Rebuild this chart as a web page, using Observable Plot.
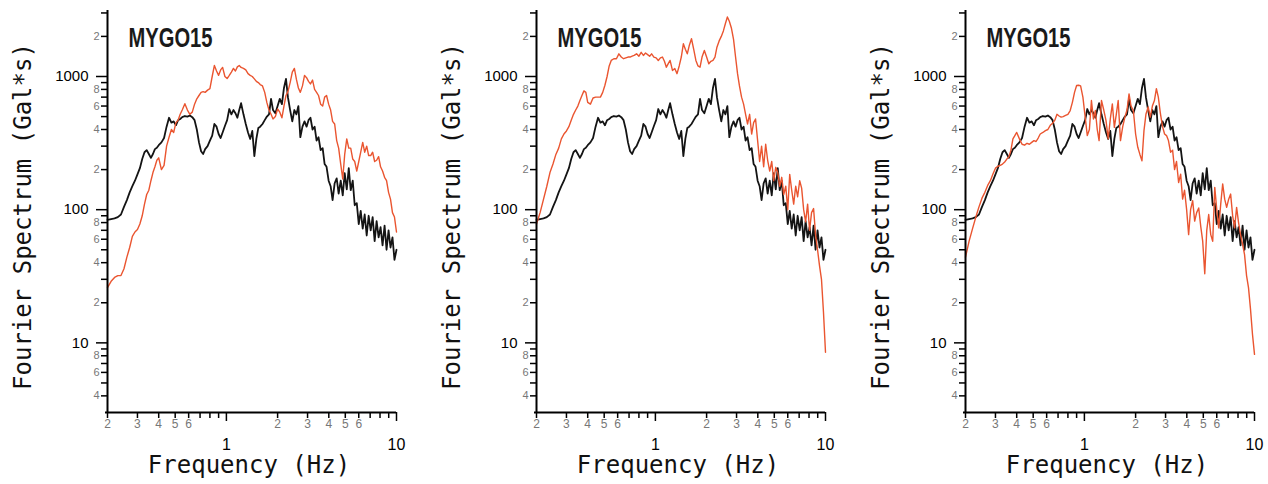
<!DOCTYPE html>
<html><head><meta charset="utf-8">
<script src="https://cdn.jsdelivr.net/npm/d3@7"></script>
<script src="https://cdn.jsdelivr.net/npm/@observablehq/plot@0.6"></script>
<style>
html,body{margin:0;padding:0;background:#fff;overflow:hidden}
#wrap{position:relative;width:1268px;height:484px;background:#fff}
#wrap svg{position:absolute;top:0}
</style></head><body><div id="wrap"></div>
<script>
// Frequency grid (Hz)
const freq = [
  0.20, 0.21, 0.22, 0.23, 0.24, 0.25, 0.26, 0.27, 0.28, 0.29,
  0.30, 0.31, 0.32, 0.33, 0.34, 0.35, 0.36, 0.37, 0.38, 0.39,
  0.40, 0.415, 0.43, 0.445, 0.46, 0.475, 0.49, 0.505, 0.52, 0.535,
  0.55, 0.57, 0.59, 0.61, 0.63, 0.65, 0.67, 0.69, 0.71, 0.73,
  0.75, 0.775, 0.80, 0.825, 0.85, 0.875, 0.90, 0.925, 0.95, 0.98,
  1.01, 1.04, 1.07, 1.10, 1.13, 1.16, 1.19, 1.22, 1.26, 1.30,
  1.34, 1.38, 1.42, 1.46, 1.50, 1.54, 1.58, 1.63, 1.68, 1.73,
  1.78, 1.83, 1.88, 1.94, 2.00, 2.06, 2.12, 2.18, 2.24, 2.30,
  2.37, 2.44, 2.51, 2.58, 2.65, 2.72, 2.80, 2.88, 2.96, 3.04,
  3.12, 3.21, 3.30, 3.39, 3.48, 3.58, 3.68, 3.78, 3.88, 3.99,
  4.10, 4.21, 4.33, 4.45, 4.57, 4.70, 4.83, 4.96, 5.10, 5.24,
  5.38, 5.53, 5.68, 5.84, 6.00, 6.16, 6.33, 6.50, 6.68, 6.86,
  7.05, 7.24, 7.44, 7.64, 7.85, 8.06, 8.28, 8.51, 8.74, 8.98,
  9.22, 9.47, 9.73, 10.0
];
// Observed spectrum (black), same in all three panels
const black = [
  84, 85, 86, 88, 92, 105, 118, 135, 150, 165,
  184, 205, 240, 270, 280, 262, 245, 262, 285, 292,
  305, 320, 345, 420, 490, 450, 460, 430, 470, 480,
  495, 505, 500, 510, 495, 470, 400, 320, 275, 262,
  285, 300, 330, 360, 440, 420, 370, 345, 380, 425,
  470, 570, 520, 560, 530, 490, 560, 630, 520, 440,
  380, 340, 390, 252, 340, 410, 420, 440, 470, 500,
  520, 680, 560, 530, 600, 680, 620, 820, 960, 700,
  560, 460, 560, 520, 600, 350, 420, 460, 420, 470,
  490, 400, 420, 330, 350, 280, 290, 220, 210, 165,
  150, 118, 158, 172, 132, 165, 128, 188, 142, 205,
  140, 165, 108, 112, 78, 98, 72, 92, 64, 90,
  70, 88, 58, 82, 62, 74, 54, 76, 50, 70,
  52, 62, 42, 50
];
// Synthetic spectra (red), one per panel
const red1 = [
  26, 29, 31, 32, 32, 36, 44, 52, 63, 68,
  71, 78, 90, 110, 130, 140, 165, 190, 210, 235,
  245, 200, 215, 300, 350, 400, 380, 450, 470, 520,
  560, 625, 560, 520, 540, 620, 680, 720, 760, 770,
  760, 790, 810, 1000, 1210, 1100, 1020, 1120, 1170, 1000,
  965, 1020, 1080, 1150, 1100, 1180, 1210, 1170, 1150, 1120,
  1050, 1020, 1000, 960, 920, 900, 870, 850, 760, 636,
  560, 520, 480, 500, 570, 540, 490, 600, 720, 770,
  900, 1080, 1150, 950, 820, 760, 850, 1020, 980, 920,
  880, 940, 800, 760, 720, 620, 600, 700, 720, 620,
  560, 460, 440, 330, 290, 220, 170, 260, 340, 290,
  290, 240, 230, 195, 230, 270, 320, 270, 300, 255,
  255, 270, 230, 235, 250, 210, 195, 175, 165, 135,
  120, 95, 88, 68
];
const red2 = [
  78, 95, 120, 150, 190, 220, 260, 290, 340, 370,
  390, 420, 470, 520, 560, 600, 660, 720, 780, 760,
  640, 620, 690, 700, 700, 700, 760, 860, 1000, 1200,
  1320, 1360, 1360, 1480, 1400, 1360, 1380, 1400, 1400, 1420,
  1440, 1480, 1420, 1520, 1440, 1500, 1460, 1420, 1480, 1400,
  1380, 1320, 1380, 1400, 1300, 1175, 1250, 1320, 1110, 1150,
  1050, 1200, 1400, 1760, 1600, 1480, 1700, 1920, 1600, 1320,
  1200, 1175, 1400, 1570, 1400, 1245, 1300, 1320, 1400, 1660,
  1850, 2000, 2200, 2500, 2800, 2600, 2300, 1900, 1400, 1050,
  850, 700, 620, 520, 440, 520, 370, 450, 480, 330,
  230, 300, 210, 310, 235, 195, 230, 165, 208, 190,
  150, 175, 130, 150, 100, 184, 140, 110, 150, 125,
  165, 145, 100, 81, 110, 70, 95, 102, 65, 50,
  38, 30, 17, 8.5
];
const red3 = [
  44, 58, 72, 88, 105, 122, 135, 152, 165, 185,
  205, 212, 215, 220, 228, 240, 250, 280, 340, 360,
  380, 340, 310, 305, 315, 310, 320, 330, 325, 345,
  370, 380, 392, 400, 430, 445, 470, 520, 505, 495,
  500, 510, 520, 555, 640, 760, 855, 860, 850, 700,
  500, 360, 400, 660, 480, 555, 400, 330, 660, 560,
  466, 340, 480, 622, 415, 520, 660, 330, 420, 495,
  560, 740, 600, 555, 370, 294, 260, 233, 392, 520,
  590, 495, 600, 660, 810, 700, 523, 420, 370, 360,
  330, 270, 280, 200, 230, 160, 185, 120, 140, 100,
  65, 100, 117, 82, 95, 103, 75, 58, 33, 70,
  92, 65, 58, 147, 100, 73, 110, 156, 120, 104,
  120, 131, 90, 73, 104, 80, 65, 55, 46, 32,
  26, 18, 11.6, 8.2
];

const stationLabel = "MYGO15";
const xLabel = "Frequency (Hz)";
const yLabel = "Fourier Spectrum (Gal*s)";
const yMajorTicks = [10, 100, 1000];
const yMinorLabeledTicks = [4, 6, 8, 20, 40, 60, 80, 200, 400, 600, 800, 2000];
const yMinorUnlabeledTicks = [5, 7, 9, 30, 50, 70, 90, 300, 500, 700, 900, 3000];
const xMajorTicks = [1, 10];
const xMinorLabeledTicks = [0.2, 0.3, 0.4, 0.5, 0.6, 2, 3, 4, 5, 6];
const xMinorUnlabeledTicks = [0.7, 0.8, 0.9, 7, 8, 9];

const blackColor = "#141414";
const redColor = "#ea5530";
const monoFont = "'DejaVu Sans Mono', 'Liberation Mono', monospace";
const tickFont = "'Liberation Sans', Arial, sans-serif";
const leadDigit = d => String(Math.round(d / Math.pow(10, Math.floor(Math.log10(d) + 1e-9))));

const panels = [
  {red: red1, left: 0, width: 422},
  {red: red2, left: 429, width: 422},
  {red: red3, left: 858, width: 410}
];

const wrap = document.getElementById("wrap");
const blackRows = freq.map((f, i) => ({f, v: black[i]}));
const X0 = 0.2, Y0 = 3;

for (const p of panels) {
  const redRows = freq.map((f, i) => ({f, v: p.red[i]}));
  const plotW = 289;
  const svg = Plot.plot({
    width: p.width,
    height: 484,
    marginLeft: 107,
    marginRight: p.width - 107 - plotW,
    marginTop: 10,
    marginBottom: 72,
    x: {type: "log", domain: [0.2, 10], axis: null},
    y: {type: "log", domain: [3, 3130], axis: null},
    style: {background: "transparent", fontFamily: tickFont, overflow: "visible"},
    marks: [
      Plot.line(blackRows, {x: "f", y: "v", stroke: blackColor, strokeWidth: 1.8}),
      Plot.line(redRows, {x: "f", y: "v", stroke: redColor, strokeWidth: 1.4}),
      // axis lines
      Plot.ruleX([X0], {stroke: "#000", strokeWidth: 2}),
      Plot.ruleY([Y0], {x1: X0, x2: 10, insetLeft: -2, stroke: "#000", strokeWidth: 2}),
      // y ticks
      Plot.ruleY(yMinorUnlabeledTicks.concat(yMinorLabeledTicks), {y: d => d, x1: X0, x2: X0, insetLeft: -6, stroke: "#000", strokeWidth: 1.5}),
      Plot.ruleY(yMajorTicks, {y: d => d, x1: X0, x2: X0, insetLeft: -11, stroke: "#000", strokeWidth: 1.5}),
      Plot.text(yMinorLabeledTicks, {y: d => d, text: leadDigit, frameAnchor: "left", dx: -8, textAnchor: "end", lineAnchor: "middle", fontSize: 11, fill: "#777", fontFamily: tickFont}),
      Plot.text(yMajorTicks, {y: d => d, text: d => String(d), frameAnchor: "left", dx: -19, textAnchor: "end", lineAnchor: "middle", fontSize: 15, fill: "#000", fontFamily: tickFont}),
      // x ticks
      Plot.ruleX(xMinorUnlabeledTicks.concat(xMinorLabeledTicks), {x: d => d, y1: Y0, y2: Y0, insetBottom: -6, stroke: "#000", strokeWidth: 1.5}),
      Plot.ruleX(xMajorTicks, {x: d => d, y1: Y0, y2: Y0, insetBottom: -9, stroke: "#000", strokeWidth: 1.5}),
      Plot.text(xMinorLabeledTicks, {x: d => d, text: leadDigit, frameAnchor: "bottom", dy: 7, lineAnchor: "top", fontSize: 12, fill: "#777", fontFamily: tickFont}),
      Plot.text(xMajorTicks, {x: d => d, text: d => String(d), frameAnchor: "bottom", dy: 26, lineAnchor: "top", fontSize: 16, fill: "#000", fontFamily: tickFont}),
      // station label
      Plot.text([stationLabel], {text: d => d, frameAnchor: "top-left", dx: 21, dy: 17, textAnchor: "start", lineAnchor: "top", fontSize: 27, fontWeight: "bold", fontFamily: tickFont, fill: "#1a1a1a"}),
      // axis titles
      Plot.text([xLabel], {text: d => d, frameAnchor: "bottom", dx: -3, dy: 53, lineAnchor: "middle", fontSize: 24, fontFamily: monoFont, fill: "#111"}),
      Plot.text([yLabel], {text: d => d, frameAnchor: "left", dx: -84, dy: 5, rotate: -90, textAnchor: "middle", lineAnchor: "middle", fontSize: 24, fontFamily: monoFont, fill: "#111"})
    ]
  });
  d3.select(svg).selectAll("text")
    .filter(function() { return this.textContent === stationLabel; })
    .attr("textLength", 84)
    .attr("lengthAdjust", "spacingAndGlyphs");
  svg.style.left = p.left + "px";
  wrap.appendChild(svg);
}
</script>
</body></html>
